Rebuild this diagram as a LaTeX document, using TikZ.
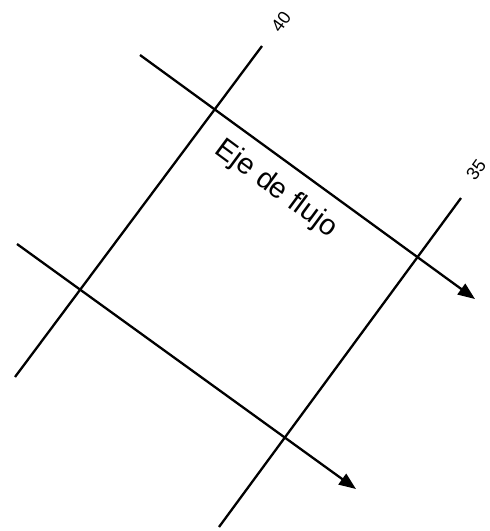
\documentclass[tikz,border=0pt]{standalone}
\usepackage{fontspec}
\setmainfont{Liberation Sans}
\usetikzlibrary{arrows.meta}
\begin{document}
\begin{tikzpicture}[x=1pt, y=-1pt, line width=2.3pt, >={Triangle[length=17pt, width=13pt]}]
    \useasboundingbox (0,0) rectangle (490,531);

    % Grid lines 40 and 35
    \coordinate (A) at (262,46);
    \coordinate (B) at (15,377);
    \coordinate (C) at (461,198);
    \coordinate (D) at (219,527);
    \draw (A) -- (B);
    \draw (C) -- (D);

    % Flow arrows
    \coordinate (E) at (140,55);
    \coordinate (F) at (475,299);
    \coordinate (G) at (17,244);
    \coordinate (H) at (356,489);
    \draw[->] (E) -- (F);
    \draw[->] (G) -- (H);

    \node[rotate=54, font=\fontsize{18}{18}\selectfont] (n40) at (281,22) {40};
    \node[rotate=54, font=\fontsize{18}{18}\selectfont] (n35) at (476,170) {35};
    \node[rotate=-36.5, font=\fontsize{29}{29}\selectfont] (eje) at (276,189) {Eje de flujo};
\end{tikzpicture}
\end{document}
